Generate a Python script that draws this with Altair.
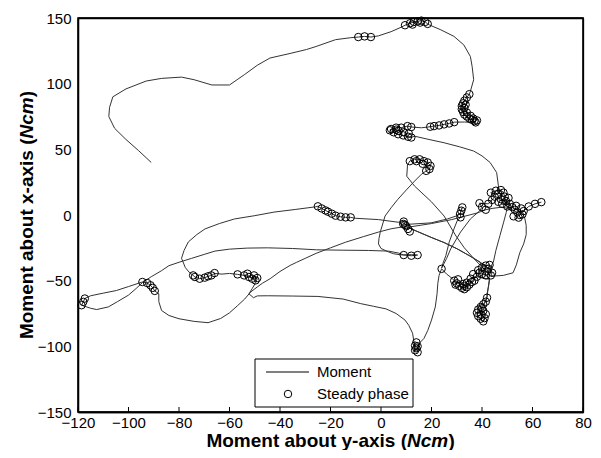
import altair as alt
import pandas as pd

FONT = "Liberation Sans"

x_ticks = [-120, -100, -80, -60, -40, -20, 0, 20, 40, 60, 80]
y_ticks = [-150, -100, -50, 0, 50, 100, 150]

main_path = [
    (-91, 40), (-96, 49), (-101, 57.5), (-105.5, 66), (-107.8, 75), (-107.5, 82), (-106.2, 90),
    (-101, 96), (-93, 102), (-87, 104), (-79, 105), (-74, 103), (-67, 99), (-60, 99), (-57, 103),
    (-54, 107), (-49, 114), (-44, 119.5), (-36, 123), (-29.5, 126), (-25.7, 128.3), (-18, 133.5),
    (-12, 135), (-9, 135.5), (-6.5, 136), (-4, 135.5), (-1, 136.4), (4, 139.6), (8, 143),
    (9.5, 144.5), (11.5, 146), (13, 147), (14.5, 147.5), (16, 148), (17.5, 147), (18.5, 145.5),
    (19.2, 144.7), (23.7, 141), (28.9, 136), (32.8, 129.5), (35.4, 120.7), (36.1, 113), (36.7, 103),
    (35.4, 94.2), (35, 92), (34, 89.5), (33, 87), (32.5, 85), (32, 83), (32, 80.5), (32.5, 78.5),
    (33, 76.5), (34, 75), (35, 73.5), (36, 72.5), (37, 71.5), (37.5, 70.5), (36, 70.5), (33, 70.8),
    (29, 70.7), (27, 69.7), (25, 69), (23, 68.2), (21, 67.7), (19.5, 67.2), (16, 66.4), (12, 67),
    (10.5, 67.7), (8, 66.5), (6, 66.5), (4, 65.5), (3.5, 64.5), (5, 63), (6.8, 61.5), (8.8, 60.6),
    (10.7, 59.6), (12, 59), (13.3, 60), (19, 57.5), (25, 55), (31, 52), (36.7, 48.7), (40, 45),
    (43.2, 40), (45.8, 32.3), (46.5, 22.2), (46.5, 17), (47.5, 16), (48, 14), (46.5, 13), (47, 11),
    (48.5, 12), (49, 10), (48, 8), (50, 9), (51, 7), (50, 5.5), (52, 6), (53, 5), (54, 3.5), (55, 2),
    (56, 1), (56.5, -0.5), (57, -3), (57.5, -8), (57.5, -15), (56.5, -22), (55, -28.5), (53.6, -38),
    (52.3, -44), (48.4, -46), (44.5, -46.5), (43.5, -46), (44, -44), (42, -43), (42.5, -41), (43, -38),
    (41.5, -38.5), (40, -40), (38.5, -42), (39, -44), (40, -45), (41.5, -46), (43, -48), (42.6, -54),
    (42, -60), (42, -63), (41.5, -66), (40.5, -68), (39.5, -70), (38.5, -72), (38, -74.5), (38.5, -77),
    (39.5, -79), (40.5, -81), (41, -78.5), (41.5, -75.5), (40.5, -73), (39.5, -76), (40, -71), (41, -67),
    (42, -62), (42.5, -55), (43, -49), (38, -47), (36.5, -49), (35, -52.5), (33, -55.5), (31, -54.5),
    (29.5, -52.5), (29, -50), (28, -48), (26, -45), (24, -41), (23, -46), (22.5, -52), (22.2, -60),
    (21.5, -70), (20, -80), (18.5, -88), (17, -94), (15.5, -97), (14.5, -100), (14.5, -104),
    (13.5, -103), (13.5, -99.5), (13, -96), (12.5, -90), (11, -84), (9.5, -80), (6, -75), (2, -71.5),
    (-3, -69.5), (-8, -67.5), (-15, -64), (-25, -62), (-35, -61.7), (-45, -61.5), (-49, -61.6),
    (-50.5, -63), (-52.3, -60), (-51, -56), (-49.5, -51), (-49, -48.5), (-50.3, -46.5), (-51.5, -48),
    (-52.5, -46.5), (-54.2, -46), (-56.8, -45.2), (-60, -44.5), (-63, -45), (-65.9, -44.5), (-67.2, -46),
    (-68.5, -46.7), (-69.8, -47.7), (-71.8, -48.5), (-73.7, -47.2), (-74.4, -46), (-76, -43.5),
    (-77.5, -40), (-79, -33), (-78, -27), (-76.3, -20.5), (-73, -15), (-69.7, -10.6), (-64, -6.5),
    (-58, -3), (-50, -0.5), (-42.4, 2.2), (-34, 4.2), (-26, 6.2), (-25, 6.6), (-23.5, 5), (-22, 3.5),
    (-21, 2.5), (-19.5, 1), (-18, -0.5), (-16, -1.3), (-14, -1.8), (-12, -1.8), (-10, -2.5), (-1, -3.5),
    (6.8, -5.5), (9, -5), (9.5, -7.5), (11.4, -7), (19.8, -6), (26.3, -3), (30.2, -0.5), (31.3, 0.8),
    (31.8, 3.3), (32.2, 5.8), (31.5, 3), (31.5, -1.8), (30.2, -4.3), (28.9, -10.6), (27, -20.7),
    (25.7, -30.8), (24.5, -37), (24, -40.5), (26, -33), (27.6, -25.8), (31.5, -13), (35.4, -3), (39, 3),
    (40, 6), (39, 9), (42.5, 8.5), (44, 11.5), (45, 14), (43.5, 17), (45.5, 18.5), (47.5, 19), (48.5, 17),
    (49, 14), (50.5, 13), (49.5, 10.5), (51, 8.5), (50, 6.5), (49.6, 2), (48.5, -6), (47.1, -15.7),
    (45.5, -27), (44.5, -35.9), (43, -41), (42, -43), (40, -40), (39.3, -36), (35, -31), (30.2, -25.8),
    (25, -21), (19.8, -17), (12, -10.6), (10, -8.6), (4, -10.5), (-1, -13), (-7, -16.5), (-14, -20.7),
    (-20, -25), (-25.7, -29.2), (-30, -33), (-33.4, -36), (-36, -38.4), (-40, -43), (-43.9, -48.5),
    (-47, -52), (-49, -54.8), (-51.6, -58.6), (-54, -64), (-56.8, -69), (-60, -74.5), (-63.5, -78.8),
    (-68.5, -82), (-74, -81), (-80, -79), (-84, -76.5), (-86.9, -72.7), (-88, -66), (-88, -60),
    (-89.6, -57.8), (-90.4, -55.5), (-91.3, -53.5), (-92.6, -51.8), (-94.5, -51), (-100, -54.5),
    (-104.8, -57.5), (-110, -59.5), (-115, -61.5), (-117.3, -63.6), (-117.9, -66.1), (-118.6, -68.7),
    (-115, -71), (-112.6, -72), (-108, -70), (-104.4, -66), (-100, -61), (-97, -56), (-94.5, -51.5),
    (-91, -47), (-87, -42.5), (-84, -38.6), (-80, -36), (-75, -33), (-70, -30), (-65.8, -27.5),
    (-60, -26), (-53, -25.2), (-45, -25), (-35, -25.5), (-25.6, -26.5), (-15, -26.8), (-5, -27),
    (3, -27.5), (7, -29), (9, -30.5), (12, -31), (14.5, -30.5), (12, -30.2), (8, -30.4), (5, -29.5),
    (2.8, -28), (0, -25.5), (-1, -22), (-0.8, -18), (-0.3, -13), (0.8, -6), (1.6, -0.8), (4, 5.5),
    (6.7, 12), (10, 19), (13.3, 25.8), (16, 31), (17.9, 33.6), (19.2, 35), (19.6, 37.4), (18.5, 40),
    (17, 41), (15.3, 42.4), (13.3, 42.4), (11.4, 41.1), (10.5, 38), (10.2, 29.5), (13.3, 22), (20, 10),
    (25, -0.8), (29.7, -16), (33, -25), (36.7, -33), (39.5, -38.6), (41.3, -38.4),
    (39.3, -36), (35, -31), (30.2, -25.8), (25, -21), (19.8, -17), (12, -10.6),
]
main_path_x = [p[0] for p in main_path]
main_path_y = [p[1] for p in main_path]

branch_path_x = [10.7, 20, 28, 33, 38, 41.5, 44, 48, 52, 54, 56.5, 58.5, 61, 63.5]
branch_path_y = [-9.3, -6.5, -3.5, -1, 1.5, 4, 5, 6, 4, 2, 3, 6.5, 8.5, 9.8]

steady = [
    (-9, 135.5), (-6.5, 136), (-4, 135.5),
    (9.5, 144.5), (11.5, 146), (13, 147), (14.5, 147.5), (16, 148), (17.5, 147), (18.5, 145.5),
    (12.5, 145), (15.5, 146.5),
    (35, 92), (34, 89.5), (33, 87), (32.5, 85), (32, 83), (32, 80.5), (32.5, 78.5), (33, 76.5),
    (34, 75), (35, 73.5), (36, 72.5), (37, 71.5), (37.5, 70.5), (33.5, 84), (33, 81.5), (34, 78),
    (35.5, 75.5), (36.5, 73.5), (38, 72),
    (19.5, 67.2), (21, 67.7), (23, 68.2), (25, 69), (27, 69.7), (29, 70.7),
    (12, 67), (10.5, 67.7), (8, 66.5), (6, 66.5), (4, 65.5), (3.5, 64.5), (5, 63), (6.8, 61.5),
    (8.8, 60.6), (10.7, 59.6), (12, 59), (7, 64), (9, 63), (11, 62), (6, 65),
    (11.4, 41), (13.3, 42.4), (15.3, 42.4), (17, 41), (18.5, 40), (19.6, 37.4), (19.2, 35),
    (17.9, 33.6), (14, 41), (16.5, 39),
    (39, 9), (40, 6), (41.5, 4), (42.5, 8.5), (44, 11.5), (45, 14), (43.5, 17), (45.5, 18.5),
    (46.5, 16), (47.5, 19), (48.5, 17), (49, 14), (47.5, 12), (46.5, 10), (48, 8.5), (49.5, 10.5),
    (50.5, 13), (51, 8.5), (52, 6), (53, 4), (54, 2), (55, 0), (54.5, -2), (52.5, -1), (53.5, 7),
    (55.5, 5), (56.5, 3), (56, 0.5), (50, 6.5),
    (58.5, 6.5), (61, 8.5), (63.5, 9.8),
    (32.2, 5.8), (31.8, 3.3), (31.3, 0.8), (31.5, -1.8),
    (9, -5), (8.8, -6.8), (10, -8.6), (10.7, -10.6), (11.4, -12.6), (9.5, -7.5),
    (9, -30.5), (12, -31), (14.5, -30.5),
    (24, -41),
    (35.5, -48.5), (36.5, -45), (38, -47), (38.5, -42), (40, -40), (40, -45), (41.5, -38.5),
    (42, -43), (42.5, -41), (43.5, -46), (41.5, -46), (39, -44), (37, -50), (43, -38), (44, -44),
    (29, -50), (30, -52), (31, -54), (32, -55.5), (33, -56.5), (34, -55), (35, -53), (36, -51),
    (34, -51.5), (32.5, -52.5), (30.5, -49), (33, -54), (29.5, -53),
    (42, -63), (41.5, -66), (40.5, -68), (39.5, -70), (38.5, -72), (38, -74.5), (38.5, -77),
    (39.5, -79), (40.5, -81), (41, -78.5), (41.5, -75.5), (40.5, -73), (39.5, -76), (40, -71),
    (14, -97), (13.5, -99.5), (14, -101.5), (13.5, -103), (14.5, -104.5), (14.5, -100),
    (-25, 6.6), (-23.5, 5), (-22, 3.5), (-21, 2.5), (-19.5, 1), (-18, -0.5), (-16, -1.3),
    (-14, -1.8), (-12, -1.8),
    (-65.9, -44.2), (-67.2, -46), (-68.5, -46.7), (-69.8, -47.7), (-71.8, -48.5), (-73.7, -47.2),
    (-74.4, -46),
    (-56.8, -45.2), (-54.2, -46), (-52.9, -44.7), (-52.3, -47.2), (-51, -48.5), (-50.3, -46),
    (-49.7, -49.8), (-49, -48),
    (-94.5, -51), (-92.6, -51.8), (-91.3, -53.5), (-90.4, -55.5), (-89.6, -57.8),
    (-117.3, -63.6), (-117.9, -66.1), (-118.6, -68.7),
]
steady_x = [p[0] for p in steady]
steady_y = [p[1] for p in steady]

legend_labels = ["Moment", "Steady phase"]
x_title_parts = ["Moment about y-axis (", "Ncm", ")"]
y_title_parts = ["Moment about x-axis (", "Ncm", ")"]

W, H = 505, 394

path_x = main_path_x + branch_path_x
path_y = main_path_y + branch_path_y
line_df = pd.DataFrame({"x": path_x, "y": path_y, "i": list(range(len(path_x)))})
steady_df = pd.DataFrame({"x": steady_x, "y": steady_y})
tick_df = pd.DataFrame({"tickpos": x_ticks})
frame_df = pd.DataFrame({"f": [1]})
legbox_df = pd.DataFrame({"b": [1]})
legline_df = pd.DataFrame({"l": [1]})
legpt_df = pd.DataFrame({"p": [1]})

xscale = alt.Scale(domain=[-120, 80], nice=False, zero=False)
yscale = alt.Scale(domain=[-150, 150], nice=False, zero=False)

# frame drawn by the axis guides: domains on bottom/left, edge grid lines on top/right
x_axis = alt.Axis(values=x_ticks, title=None, ticks=False,
                  domain=True, domainColor="black", domainWidth=1.3,
                  grid=True, gridColor="black", gridWidth=1.3,
                  gridOpacity={"condition": {"test": "datum.value == -120 || datum.value == 80",
                                             "value": 1}, "value": 0},
                  labelFont=FONT, labelFontSize=15, labelColor="black", labelPadding=3,
                  labelFlush=False, labelOverlap=False)
y_axis = alt.Axis(values=y_ticks, title=None, ticks=False,
                  domain=True, domainColor="black", domainWidth=1.3,
                  grid=True, gridColor="black", gridWidth=1.3,
                  gridOpacity={"condition": {"test": "datum.value == -150 || datum.value == 150",
                                             "value": 1}, "value": 0},
                  labelFont=FONT, labelFontSize=15, labelColor="black", labelPadding=7,
                  labelFlush=False, labelOverlap=False)

lines = alt.Chart(line_df).mark_line(color="#333333", strokeWidth=1).encode(
    x=alt.X("x:Q", scale=xscale, axis=x_axis),
    y=alt.Y("y:Q", scale=yscale, axis=y_axis),
    order="i:Q",
)

points = alt.Chart(steady_df).mark_point(shape="circle", filled=False, color="black",
                                         size=56, strokeWidth=1, opacity=1).encode(
    x=alt.X("x:Q", scale=xscale, axis=x_axis),
    y=alt.Y("y:Q", scale=yscale, axis=y_axis),
)

# inward ticks on the bottom axis
ticks = alt.Chart(tick_df).mark_tick(color="black", thickness=1, size=5, orient="vertical",
                                     opacity=1).encode(
    x=alt.X("tickpos:Q", scale=xscale, axis=x_axis),
    y=alt.value(H - 2.5),
)

frame = alt.Chart(frame_df).mark_rect(fillOpacity=0, stroke="black", strokeWidth=1.3).encode(
    x=alt.value(0), x2=alt.value(W), y=alt.value(0), y2=alt.value(H))

# legend
leg_box = alt.Chart(legbox_df).mark_rect(fill="white", stroke="black", strokeWidth=1).encode(
    x=alt.value(177), x2=alt.value(335), y=alt.value(341), y2=alt.value(389))
leg_line = alt.Chart(legline_df).mark_rule(color="black", strokeWidth=1).encode(
    x=alt.value(188), x2=alt.value(231), y=alt.value(354))
leg_pt = alt.Chart(legpt_df).mark_point(shape="circle", filled=False, color="black", size=56,
                                        strokeWidth=1, opacity=1).encode(
    x=alt.value(210), y=alt.value(376))
leg_t1 = alt.Chart(pd.DataFrame({"label": [legend_labels[0]]})).mark_text(
    align="left", baseline="middle", font=FONT, fontSize=15, color="black").encode(
    x=alt.value(239), y=alt.value(354), text="label:N")
leg_t2 = alt.Chart(pd.DataFrame({"label": [legend_labels[1]]})).mark_text(
    align="left", baseline="middle", font=FONT, fontSize=15, color="black").encode(
    x=alt.value(239), y=alt.value(376), text="label:N")


def title_text(txt, align, x, y, italic=False, angle=0):
    kw = dict(align=align, baseline="alphabetic", font=FONT, fontSize=19,
              fontWeight="bold", color="black")
    if italic:
        kw["fontStyle"] = "italic"
    if angle:
        kw["angle"] = angle
    return alt.Chart(pd.DataFrame({"label": [txt]})).mark_text(**kw).encode(
        x=alt.value(x), y=alt.value(y), text="label:N")


xt1 = title_text(x_title_parts[0], "right", 329, 429)
xt2 = title_text(x_title_parts[1], "left", 329, 429, italic=True)
xt3 = title_text(x_title_parts[2], "left", 370.5, 429)

yt1 = title_text(y_title_parts[0], "right", -45, 120.5, angle=270)
yt2 = title_text(y_title_parts[1], "left", -45, 120.5, italic=True, angle=270)
yt3 = title_text(y_title_parts[2], "left", -45, 79.3, angle=270)

chart = alt.layer(
    lines, points, ticks, frame, leg_box, leg_line, leg_pt, leg_t1, leg_t2,
    xt1, xt2, xt3, yt1, yt2, yt3,
).properties(
    width=W, height=H,
    autosize=alt.AutoSizeParams(type="none"),
    padding={"left": 70, "top": 10, "right": 10, "bottom": 38},
).configure_view(stroke="black", strokeWidth=1.3)

chart.save("out.html", embed_options={"renderer": "svg", "actions": False})
